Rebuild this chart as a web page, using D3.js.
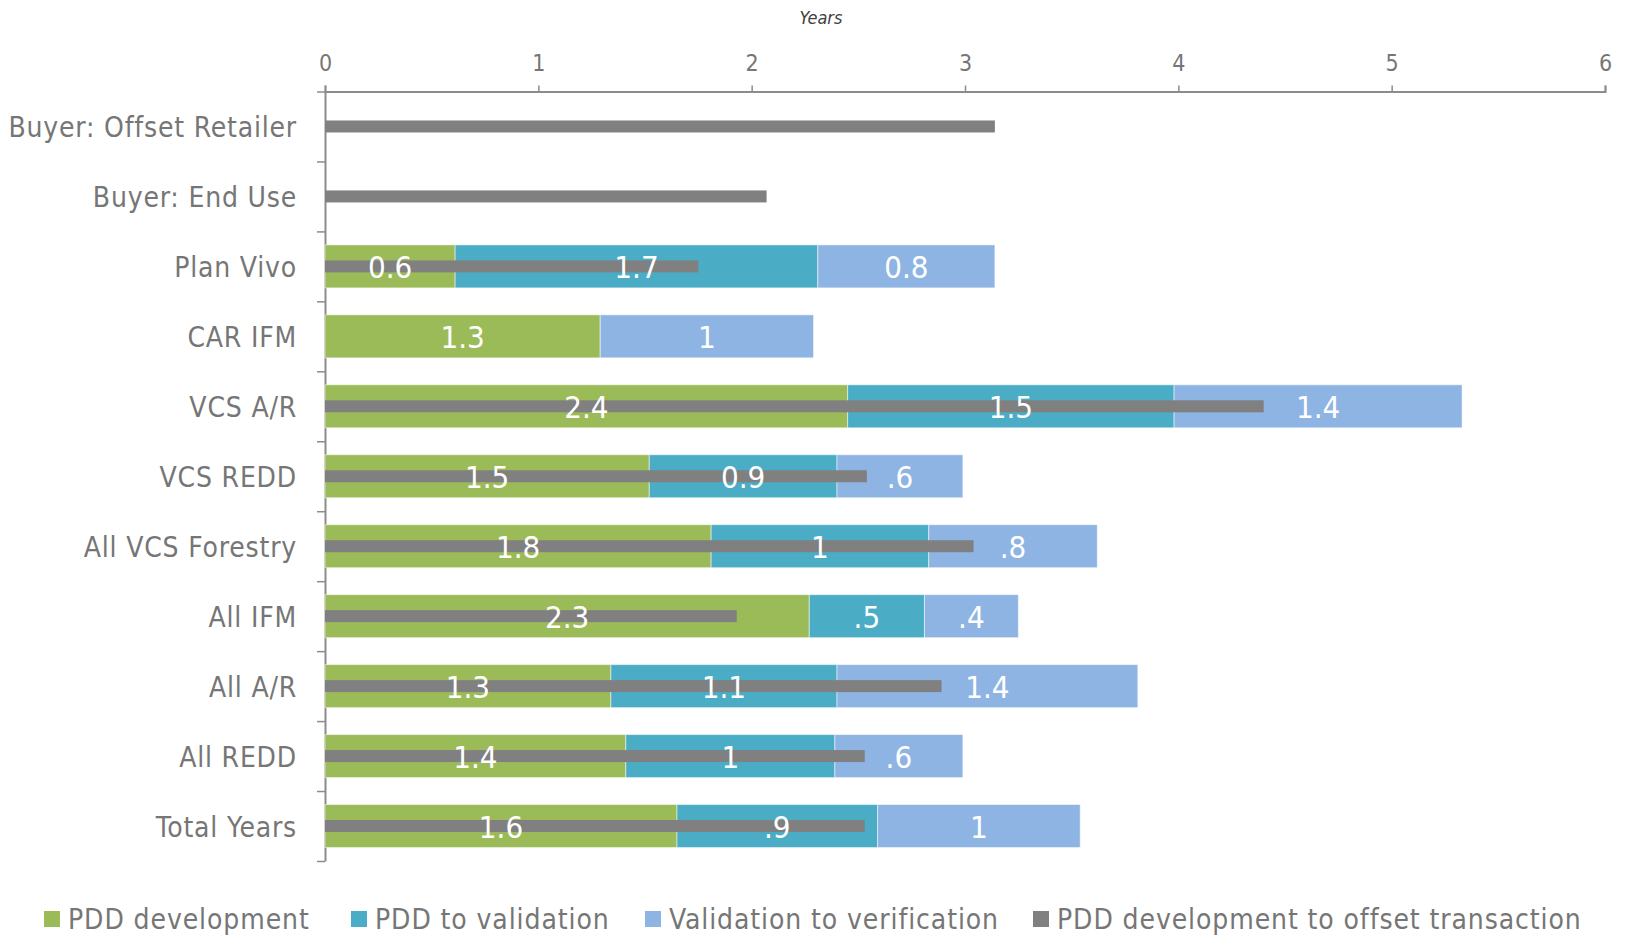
<!DOCTYPE html>
<html>
<head>
<meta charset="utf-8">
<style>
  body { margin: 0; background: #fff; }
  svg text { font-family: "Liberation Sans Narrow", "DejaVu Sans Condensed", "Liberation Sans", sans-serif; }
</style>
</head>
<body>
<svg id="chart" width="1630" height="935"></svg>
<script src="https://d3js.org/d3.v7.min.js"></script>
<script>

// categories, top to bottom
var categories = ["Buyer: Offset Retailer", "Buyer: End Use", "Plan Vivo", "CAR IFM", "VCS A/R",
  "VCS REDD", "All VCS Forestry", "All IFM", "All A/R", "All REDD", "Total Years"];

// stacked segments (years); null = not present
var pddDev      = [null, null, 0.61, 1.29, 2.45, 1.52, 1.81, 2.27, 1.34, 1.41, 1.65];
var pddToVal    = [null, null, 1.70, null, 1.53, 0.88, 1.02, 0.54, 1.06, 0.98, 0.94];
var valToVer    = [null, null, 0.83, 1.00, 1.35, 0.59, 0.79, 0.44, 1.41, 0.60, 0.95];
// thin grey bar: PDD development to offset transaction
var pddToOffset = [3.14, 2.07, 1.75, null, 4.40, 2.54, 3.04, 1.93, 2.89, 2.53, 2.53];

// printed labels as they appear
var pddDevLabels   = [null, null, "0.6", "1.3", "2.4", "1.5", "1.8", "2.3", "1.3", "1.4", "1.6"];
var pddToValLabels = [null, null, "1.7", null, "1.5", "0.9", "1", ".5", "1.1", "1", ".9"];
var valToVerLabels = [null, null, "0.8", "1", "1.4", ".6", ".8", ".4", "1.4", ".6", "1"];

var xTicks = [0, 1, 2, 3, 4, 5, 6];
var seriesNames = ["PDD development", "PDD to validation", "Validation to verification", "PDD development to offset transaction"];
var colors = ["#9bbb59", "#4bacc6", "#8eb4e3", "#808080"];

var svg = d3.select("#chart");
var axisColor = "#8c8c8c", textColor = "#767676";

var x = d3.scaleLinear().domain([0, 6]).range([325, 1605]);
var y = d3.scaleBand().domain(categories).range([91.5, 861]).paddingInner(0).paddingOuter(0);
var barH = 43, greyH = 12;

// x axis on top
var xAxis = svg.append("g")
    .attr("transform", "translate(0,91.5)")
    .call(d3.axisTop(x).tickValues(xTicks).tickSize(6).tickSizeOuter(6).tickPadding(15).tickFormat(d3.format("d")));
xAxis.select(".domain").attr("stroke", axisColor).attr("stroke-width", 2);
xAxis.selectAll(".tick line").attr("stroke", axisColor).attr("stroke-width", 1.5);
xAxis.selectAll(".tick text").attr("fill", textColor).style("font-size", "23px");

svg.append("text")
    .attr("x", 821).attr("y", 24)
    .attr("text-anchor", "middle")
    .style("font-style", "italic").style("font-size", "18px")
    .attr("fill", "#404040")
    .text("Years");

// y axis with ticks at band boundaries
var yIdx = d3.scaleLinear().domain([0, categories.length]).range(y.range());
var yAxis = svg.append("g")
    .attr("transform", "translate(" + x(0) + ",0)")
    .call(d3.axisLeft(yIdx).tickValues(d3.range(0, categories.length + 1)).tickSize(8).tickSizeOuter(0).tickFormat(""));
yAxis.select(".domain").attr("stroke", axisColor).attr("stroke-width", 2);
yAxis.selectAll(".tick line").attr("stroke", axisColor).attr("stroke-width", 1.5);

svg.append("g").selectAll("text")
  .data(categories)
  .join("text")
    .attr("x", x(0) - 28)
    .attr("y", function(d) { return y(d) + y.bandwidth() / 2; })
    .attr("dy", "0.38em")
    .attr("text-anchor", "end")
    .attr("fill", textColor)
    .style("font-size", "28px")
    .style("letter-spacing", "0.8px")
    .text(function(d) { return d; });

// build stacked segments
var segs = [];
categories.forEach(function(c, i) {
  var start = 0;
  [[pddDev, pddDevLabels, 0], [pddToVal, pddToValLabels, 1], [valToVer, valToVerLabels, 2]].forEach(function(s) {
    var v = s[0][i];
    if (v == null) return;
    segs.push({cat: c, x0: start, x1: start + v, label: s[1][i], color: colors[s[2]]});
    start += v;
  });
});

var bars = svg.append("g");
bars.selectAll("rect")
  .data(segs)
  .join("rect")
    .attr("x", function(d) { return x(d.x0); })
    .attr("width", function(d) { return x(d.x1) - x(d.x0); })
    .attr("y", function(d) { return y(d.cat) + (y.bandwidth() - barH) / 2; })
    .attr("height", barH)
    .attr("fill", function(d) { return d.color; })
    .attr("stroke", "#fff").attr("stroke-opacity", 0.5).attr("stroke-width", 1);

// grey bars on top
var greyData = categories.map(function(c, i) { return {cat: c, v: pddToOffset[i]}; })
  .filter(function(d) { return d.v != null; });
svg.append("g").selectAll("rect")
  .data(greyData)
  .join("rect")
    .attr("x", x(0))
    .attr("width", function(d) { return x(d.v) - x(0); })
    .attr("y", function(d) { return y(d.cat) + (y.bandwidth() - greyH) / 2; })
    .attr("height", greyH)
    .attr("fill", colors[3]);

// segment labels
svg.append("g").selectAll("text")
  .data(segs.filter(function(d) { return d.label != null; }))
  .join("text")
    .attr("x", function(d) { return (x(d.x0) + x(d.x1)) / 2; })
    .attr("y", function(d) { return y(d.cat) + y.bandwidth() / 2; })
    .attr("dy", "0.38em")
    .attr("text-anchor", "middle")
    .attr("fill", "#fff")
    .style("font-size", "31px")
    .text(function(d) { return d.label; });

// legend
var legendX = [44, 351, 645, 1033];
var legend = svg.append("g").attr("transform", "translate(0,919)");
var items = legend.selectAll("g")
  .data(seriesNames)
  .join("g")
    .attr("transform", function(d, i) { return "translate(" + legendX[i] + ",0)"; });
items.append("rect")
    .attr("x", 0).attr("y", -8)
    .attr("width", 16).attr("height", 16)
    .attr("fill", function(d, i) { return colors[i]; });
items.append("text")
    .attr("x", 24).attr("y", 0).attr("dy", "0.35em")
    .attr("fill", textColor)
    .style("font-size", "28px")
    .style("letter-spacing", "0.9px")
    .text(function(d) { return d; });

</script>
</body>
</html>
